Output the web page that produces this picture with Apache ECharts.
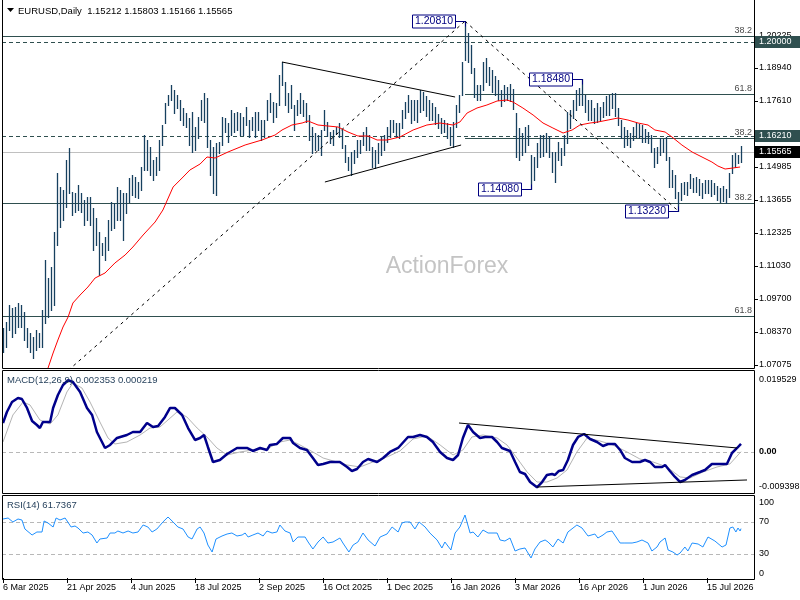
<!DOCTYPE html>
<html>
<head>
<meta charset="utf-8">
<script src="https://cdn.jsdelivr.net/npm/echarts@6/dist/echarts.min.js"></script>
<style>html,body{margin:0;padding:0;background:#fff;}#c{width:800px;height:600px;}</style>
</head>
<body>
<div id="c"></div>
<script>
// ---------------- DATA ----------------
const symbolName = 'EURUSD';
const periodName = 'Daily';
const lastOHLC = [1.15212, 1.15803, 1.15166, 1.15565];
const dateLabels = ['6 Mar 2025','21 Apr 2025','4 Jun 2025','18 Jul 2025','2 Sep 2025','16 Oct 2025','1 Dec 2025','16 Jan 2026','3 Mar 2026','16 Apr 2026','1 Jun 2026','15 Jul 2026'];

const highs = [
1.0854,1.0878,1.0946,1.0934,1.0938,1.0954,1.0946,1.0918,1.0854,1.0834,
1.0818,1.0846,1.0834,1.0926,1.1126,1.1054,1.1098,1.1238,1.1474,1.1418,
1.1406,1.1526,1.1574,1.1398,1.1394,1.1426,1.1394,1.1366,1.1378,1.1378,
1.1334,1.1294,1.1238,1.1194,1.1218,1.1286,1.1358,1.1354,1.1418,1.1406,
1.1394,1.1394,1.1454,1.1466,1.1458,1.1438,1.1498,1.1626,1.1606,1.1578,
1.1526,1.1538,1.1606,1.1666,1.1754,1.1786,1.1826,1.1806,1.1786,1.1766,
1.1734,1.1714,1.1694,1.1718,1.1658,1.1698,1.1766,1.1794,1.1774,1.1606,
1.1578,1.1594,1.1598,1.1698,1.1694,1.1674,1.1726,1.1714,1.1718,1.1714,
1.1698,1.1738,1.1686,1.1698,1.1718,1.1718,1.1686,1.1686,1.1766,1.1794,
1.1758,1.1754,1.1866,1.1918,1.1838,1.1794,1.1826,1.1746,1.1766,1.1794,
1.1766,1.1754,1.1706,1.1658,1.1634,1.1626,1.1646,1.1726,1.1678,1.1638,
1.1646,1.1658,1.1674,1.1646,1.1586,1.1538,1.1558,1.1566,1.1606,1.1606,
1.1638,1.1658,1.1626,1.1578,1.1566,1.1594,1.1618,1.1626,1.1658,1.1686,
1.1686,1.1674,1.1674,1.1726,1.1758,1.1786,1.1766,1.1766,1.1766,1.1806,
1.1798,1.1782,1.1766,1.1754,1.1738,1.1710,1.1694,1.1686,1.1674,1.1658,
1.1678,1.1746,1.1786,1.1918,1.2081,1.2034,1.1986,1.1894,1.1826,1.1826,
1.1918,1.1934,1.1898,1.1886,1.1862,1.1846,1.1806,1.1826,1.1818,1.1830,
1.1810,1.1714,1.1654,1.1634,1.1658,1.1666,1.1546,1.1538,1.1594,1.1626,
1.1626,1.1634,1.1622,1.1558,1.1558,1.1598,1.1574,1.1626,1.1718,1.1726,
1.1766,1.1806,1.1814,1.1848,1.1786,1.1766,1.1766,1.1734,1.1754,1.1738,
1.1758,1.1782,1.1786,1.1794,1.1794,1.1734,1.1686,1.1658,1.1646,1.1634,
1.1658,1.1674,1.1670,1.1666,1.1650,1.1638,1.1626,1.1574,1.1578,1.1614,
1.1610,1.1618,1.1538,1.1486,1.1466,1.1398,1.1434,1.1438,1.1438,1.1470,
1.1454,1.1458,1.1450,1.1434,1.1446,1.1446,1.1446,1.1434,1.1422,1.1414,
1.1422,1.1410,1.1474,1.1546,1.1554,1.1546,1.15803];

const lows = [
1.0758,1.0778,1.0846,1.0818,1.0834,1.0858,1.0858,1.0806,1.0778,1.0758,
1.0734,1.0766,1.0778,1.0778,1.0874,1.0898,1.0926,1.0946,1.1186,1.1258,
1.1286,1.1338,1.1394,1.1306,1.1318,1.1326,1.1318,1.1266,1.1286,1.1266,
1.1166,1.1186,1.1066,1.1146,1.1126,1.1166,1.1246,1.1254,1.1286,1.1286,
1.1206,1.1314,1.1358,1.1386,1.1378,1.1374,1.1406,1.1486,1.1486,1.1466,
1.1446,1.1466,1.1486,1.1586,1.1674,1.1746,1.1766,1.1714,1.1734,1.1686,
1.1666,1.1658,1.1586,1.1558,1.1566,1.1614,1.1686,1.1678,1.1578,1.1466,
1.1394,1.1386,1.1554,1.1586,1.1638,1.1598,1.1626,1.1638,1.1646,1.1626,
1.1626,1.1666,1.1618,1.1646,1.1618,1.1646,1.1606,1.1618,1.1686,1.1718,
1.1678,1.1698,1.1746,1.1826,1.1746,1.1718,1.1734,1.1646,1.1706,1.1714,
1.1702,1.1678,1.1606,1.1554,1.1566,1.1566,1.1546,1.1646,1.1622,1.1594,
1.1586,1.1630,1.1618,1.1574,1.1518,1.1486,1.1466,1.1514,1.1538,1.1554,
1.1586,1.1566,1.1566,1.1498,1.1494,1.1514,1.1546,1.1566,1.1598,1.1618,
1.1638,1.1618,1.1614,1.1654,1.1694,1.1718,1.1674,1.1686,1.1678,1.1718,
1.1726,1.1702,1.1686,1.1686,1.1670,1.1654,1.1634,1.1638,1.1614,1.1586,
1.1578,1.1658,1.1718,1.1786,1.1926,1.1918,1.1874,1.1778,1.1766,1.1766,
1.1806,1.1838,1.1826,1.1798,1.1786,1.1766,1.1742,1.1762,1.1766,1.1762,
1.1730,1.1538,1.1526,1.1546,1.1558,1.1586,1.1408,1.1446,1.1498,1.1538,
1.1542,1.1558,1.1538,1.1478,1.1438,1.1526,1.1506,1.1546,1.1594,1.1654,
1.1694,1.1726,1.1746,1.1746,1.1718,1.1686,1.1686,1.1674,1.1678,1.1686,
1.1698,1.1706,1.1706,1.1734,1.1702,1.1666,1.1614,1.1578,1.1586,1.1578,
1.1606,1.1618,1.1614,1.1598,1.1598,1.1594,1.1558,1.1498,1.1514,1.1546,
1.1558,1.1526,1.1418,1.1418,1.1374,1.1323,1.1366,1.1390,1.1386,1.1414,
1.1398,1.1398,1.1386,1.1374,1.1394,1.1394,1.1382,1.1390,1.1366,1.1358,
1.1362,1.1354,1.1378,1.1474,1.1498,1.1514,1.15166];

// moving average (bar index, price)
const maLine = [[14,1.0658],[16.7,1.0754],[18.3,1.0806],[20,1.0858],[21.7,1.0898],[23.3,1.0954],[25.7,1.0986],[28.3,1.1018],[30.7,1.1054],[34,1.1074],[37.3,1.1114],[40.7,1.1146],[43.3,1.1178],[46.7,1.1226],[50.7,1.1278],[53.3,1.1326],[56.7,1.1418],[59.7,1.1454],[62.3,1.1486],[65.7,1.1510],[68,1.1538],[70.7,1.1534],[75,1.1558],[80.7,1.1586],[86.3,1.1606],[90.7,1.1626],[93,1.1646],[96.3,1.1666],[99.7,1.1674],[101.7,1.1682],[105,1.1666],[108.3,1.1662],[111.7,1.1658],[115,1.1638],[118.3,1.1622],[121.7,1.1622],[124.7,1.1606],[128,1.1606],[132.3,1.1618],[136.7,1.1646],[141.3,1.1666],[145.7,1.1674],[150,1.1666],[152.3,1.1678],[154.7,1.1714],[158,1.1734],[161.3,1.1746],[164.7,1.1762],[168,1.1766],[170,1.1758],[173.3,1.1734],[176.7,1.1706],[180,1.1674],[183.3,1.1654],[186.7,1.1634],[189.7,1.1646],[192.3,1.1666],[195.7,1.1674],[198.3,1.1678],[201.7,1.1686],[205,1.1694],[208.3,1.1686],[211.7,1.1674],[215,1.1666],[217.3,1.1646],[220.7,1.1638],[223,1.1618],[226.3,1.1586],[229.7,1.1558],[233,1.1538],[236.3,1.1518],[238.3,1.1502],[240.7,1.1490],[243.3,1.1494],[245.7,1.1498]];

const macdLine = [[0,0.00798],[1.3,0.01095],[3,0.01365],[5,0.01473],[6.3,0.01446],[8,0.01203],[9.7,0.00852],[11.3,0.00743],[12.3,0.00662],[13.3,0.00825],[15.7,0.00825],[16.7,0.01203],[18.3,0.01554],[20,0.01825],[21.7,0.01953],[23.3,0.01906],[25.7,0.01636],[28,0.01203],[29.7,0.01014],[31.3,0.00554],[33,0.00284],[34,0.00122],[35.7,0.00203],[38,0.00392],[41.3,0.00473],[43.3,0.00554],[45.7,0.00554],[48,0.00798],[50,0.00689],[51.7,0.00716],[54,0.00960],[55.7,0.01203],[57.3,0.01203],[59.7,0.01014],[61.7,0.00662],[64,0.00338],[65.7,0.00392],[67,0.00473],[68.3,0.00149],[70,-0.00257],[72.3,-0.00203],[74.7,-0.00041],[78,0.00122],[81.3,0.00122],[83.3,0.00041],[85.7,0.00122],[88,0.00068],[89,0.00203],[91.3,0.00230],[93.3,0.00392],[95.7,0.00392],[96.7,0.00257],[99,0.00122],[101.3,0.00068],[103.3,-0.00149],[105,-0.00338],[106.7,-0.00311],[109,-0.00257],[112.3,-0.00257],[114.7,-0.00392],[116.3,-0.00500],[118,-0.00446],[120,-0.00257],[121.7,-0.00176],[124.7,-0.00257],[126.7,-0.00149],[129,0.00014],[131.7,0.00122],[132.3,0.00149],[135,0.00419],[136.7,0.00419],[139,0.00473],[141.3,0.00419],[143.3,0.00284],[145.7,0.00014],[148,-0.00149],[150,-0.00203],[151.7,-0.00068],[153.3,0.00392],[155,0.00743],[156.7,0.00554],[159,0.00392],[160.7,0.00419],[163,0.00419],[164.7,0.00284],[166.3,0.00122],[169,0.00041],[170.7,-0.00257],[172.3,-0.00527],[174,-0.00581],[175.7,-0.00798],[178,-0.00940],[179.7,-0.00798],[181.3,-0.00608],[183,-0.00581],[184,-0.00608],[185.3,-0.00500],[186.7,-0.00473],[188.3,-0.00203],[190,0.00203],[191.7,0.00419],[193.7,0.00500],[195.7,0.00365],[198,0.00284],[200,0.00176],[201.7,0.00230],[204,0.00230],[205.7,0.00068],[207.3,-0.00149],[209.7,-0.00257],[212.3,-0.00257],[214,-0.00203],[215.7,-0.00257],[217.3,-0.00392],[219.7,-0.00392],[220.7,-0.00338],[222.3,-0.00500],[224,-0.00662],[225.7,-0.00798],[227.3,-0.00743],[229.7,-0.00608],[232.3,-0.00527],[234,-0.00473],[236.3,-0.00311],[239,-0.00311],[241.3,-0.00311],[243,-0.00014],[244.7,0.00122],[246,0.002353]];

const signalLine = [[0,0.00284],[3.3,0.01014],[6.7,0.01365],[9,0.01284],[12.3,0.00879],[15.7,0.00770],[18.3,0.01014],[21.3,0.01636],[23.3,0.01879],[26.3,0.01744],[29,0.01365],[32.3,0.00825],[35,0.00392],[37.3,0.00230],[41.3,0.00284],[45.7,0.00473],[49,0.00662],[52.3,0.00689],[55,0.00879],[58,0.01095],[61.3,0.00960],[64.7,0.00662],[68,0.00419],[71.3,0.00122],[74.7,-0.00068],[79,0.00014],[83.3,0.00068],[88,0.00095],[92.3,0.00284],[95.7,0.00338],[99,0.00203],[103.3,0.00014],[106.7,-0.00149],[111.3,-0.00257],[114.7,-0.00338],[119,-0.00392],[123.3,-0.00257],[128,-0.00122],[132.3,0.00041],[136.7,0.00365],[141.3,0.00446],[145.7,0.00203],[150,-0.00068],[153.3,0.00068],[156.3,0.00419],[160,0.00473],[164.7,0.00392],[168,0.00203],[171.3,-0.00149],[174.7,-0.00527],[178,-0.00798],[181.3,-0.00798],[184.7,-0.00689],[188,-0.00473],[191.3,0.00014],[194.7,0.00392],[199,0.00311],[203.3,0.00203],[208,0.00014],[212.3,-0.00176],[216.7,-0.00257],[221.3,-0.00392],[225.7,-0.00662],[229,-0.00689],[233.3,-0.00527],[238,-0.00392],[242.3,-0.00311],[246,0.000219]];

const rsiLine = [[0,73.75],[1.7,75],[3.3,70],[5,73.75],[6.3,72.5],[7.3,61.25],[9.7,53.75],[11.3,57.5],[13,57.5],[13.7,71.25],[15,68.75],[16.7,63.75],[17.7,75],[19,72.5],[20.7,75],[21.3,76.25],[22.7,63.75],[24,65],[25,62.5],[26.7,56.25],[28.3,57.5],[29.7,53.75],[31.3,43.75],[32.3,48.75],[34.7,50],[35.7,56.25],[37.3,56.25],[38.3,58.75],[40,56.25],[41.7,58.75],[43.3,56.25],[45,57.5],[46.7,66.25],[48.3,63.75],[49.7,57.5],[51.3,61.25],[53.3,70],[55,76.25],[56.7,70],[58.3,63.75],[60,61.25],[61.7,51.25],[63,48.75],[64.7,61.25],[65.7,63.75],[67,56.25],[68.3,41.25],[69.7,32.5],[71,48.75],[73,52.5],[74.7,55],[76.3,56.25],[78,52.5],[79.7,53.75],[80.7,56.25],[81.7,51.25],[83.3,53.75],[85,56.25],[86.7,52.5],[88,58.75],[89.7,56.25],[91.3,57.5],[92.3,66.25],[94,58.75],[95.7,56.25],[96.7,45],[98.3,51.25],[100.7,51.25],[101.7,45],[103.3,36.25],[105,45],[106.7,51.25],[108.3,43.75],[110,45],[112.3,50],[113.3,43.75],[115.3,32.5],[116.7,41.25],[118.3,45],[120,56.25],[121.7,47.5],[124,40],[125.7,51.25],[128,55],[129.7,63.75],[131.7,57.5],[133,68.75],[134,70],[135.7,70],[137.3,61.25],[138.7,70],[140.7,63.75],[142.3,56.25],[144.7,47.5],[146.3,37.5],[147.3,45],[149.3,35],[150.7,56.25],[152.3,63.75],[154,78.75],[155.7,56.25],[156.7,57.5],[158.3,51.25],[160,60],[161.7,56.25],[164.7,56.25],[165.7,47.5],[167.3,46.25],[169,50],[170.7,33.75],[172.3,36.25],[174,37.5],[176,25],[177.3,36.25],[179,45],[180.7,47.5],[181.7,45],[183.3,38.75],[185,48.75],[186.7,43.75],[188.3,57.5],[191.3,66.25],[193,62.5],[195,52.5],[197.3,55],[198.3,50],[200,53.75],[201.3,57.5],[203,58.75],[205.7,43.75],[207.3,43.75],[209.7,43.75],[211.3,45],[213,47.5],[215,43.75],[216.3,33.75],[218,38.75],[219,45],[220.7,50],[221.7,35],[223.3,32.5],[224.7,28.75],[225.7,31.25],[227.3,38.75],[228.3,33.75],[229.7,43.75],[231.7,42.5],[233.3,38.75],[235,51.25],[237.3,46.25],[239.7,38.75],[241,41.25],[242.3,62.5],[243.3,63.75],[244.3,57.5],[245,62.5],[245.7,58.75],[246,61.7367]];

// levels
const fibLevels = [[0,1.20225,'38.2'],[154,1.17914,'61.8'],[154,1.16126,'38.2'],[0,1.1353,'38.2'],[0,1.0902,'61.8']];
const roundLevels = [1.20000, 1.16210];
const lastPrice = 1.15565;
const priceTicks = [1.20225,1.18940,1.17610,1.14985,1.13655,1.12325,1.11030,1.09700,1.08370,1.07075];
const swingPoints = [[154,1.2081,'high'],[193,1.1848,'high'],[176,1.1408,'low'],[225,1.1323,'low']];
const triangleUpper = [[93,1.1918],[150.7,1.1778]];
const triangleLower = [[107.3,1.1438],[152.7,1.1586]];
const riseLine = [[20,1.0666],[154,1.2081]];
const fallLine = [[154,1.2081],[225,1.1323]];
const macdUpper = [[152,0.00797],[244.7,0.00122]];
const macdLower = [[178,-0.00933],[248,-0.00743]];
const macdTicks = [0.019529, 0, -0.009398];
const rsiTicks = [100, 70, 30, 0];
const rsiLevels = [70, 30];

// ---------------- LAYOUT / STYLE ----------------
const FONT = '"Liberation Sans", Arial, sans-serif';
const X_MAX = 751 / 3;
const LABEL_STEP = 64 / 3;
const BAR_COLOR = '#17405f';
const LEVEL_COLOR = '#2f4f4f';

const chart = echarts.init(document.getElementById('c'));

function levelSeries(grid, data, color, dash, withLabel) {
  return {
    type: 'custom', xAxisIndex: grid, yAxisIndex: grid, silent: true, z: 1, clip: false,
    data: data,
    renderItem: function (params, api) {
      const cs = params.coordSys;
      const from = api.value(0), v = api.value(1);
      const p = api.coord([from, v]);
      const y = Math.round(p[1]) + 0.5;
      const x1 = from === 0 ? cs.x - 1 : Math.round(p[0]);
      const children = [{ type: 'line', shape: { x1: x1, y1: y, x2: cs.x + cs.width, y2: y },
        style: { stroke: color, lineWidth: 1, lineDash: dash } }];
      if (withLabel) {
        children.push({ type: 'text', style: { text: data[params.dataIndex][2], x: cs.x + cs.width - 2, y: y - 1,
          align: 'right', verticalAlign: 'bottom', fill: '#4a4a4a', font: '9px ' + FONT } });
      }
      return { type: 'group', children: children };
    }
  };
}

function tickLabelSeries(grid, ticks, fmt, opts) {
  return {
    type: 'custom', xAxisIndex: grid, yAxisIndex: grid, silent: true, z: 6, clip: false,
    data: ticks.map(function (v) { return [0, v]; }),
    renderItem: function (params, api) {
      const cs = params.coordSys;
      const v = api.value(1);
      const y = Math.round(api.coord([0, v])[1]);
      const xr = cs.x + cs.width;
      const children = [];
      let va = 'middle';
      if (opts.edgeAlign) {
        if (params.dataIndex === 0) va = 'top';
        if (params.dataIndex === ticks.length - 1) va = 'bottom';
      }
      if (opts.ticks) children.push({ type: 'line', shape: { x1: xr, y1: y + 0.5, x2: xr + 4, y2: y + 0.5 }, style: { stroke: '#000', lineWidth: 1 } });
      children.push({ type: 'text', style: { text: fmt(v), x: xr + 5, y: y, align: 'left', verticalAlign: va,
        fill: '#000', font: (opts.boldZero && v === 0 ? 'bold ' : '') + '9px ' + FONT } });
      return { type: 'group', children: children };
    }
  };
}

function boxLabelSeries(values, fill) {
  return {
    type: 'custom', xAxisIndex: 0, yAxisIndex: 0, silent: true, z: 7, clip: false,
    data: values.map(function (v) { return [0, v]; }),
    renderItem: function (params, api) {
      const cs = params.coordSys;
      const v = api.value(1);
      const y = Math.round(api.coord([0, v])[1]);
      const xr = cs.x + cs.width;
      return { type: 'group', children: [
        { type: 'rect', shape: { x: xr + 1, y: y - 6, width: 46, height: 12 }, style: { fill: fill } },
        { type: 'text', style: { text: v.toFixed(5), x: xr + 5, y: y, align: 'left', verticalAlign: 'middle', fill: '#fff', font: '9px ' + FONT } }
      ] };
    }
  };
}

function lineSeries(grid, data, color, width, dash, z) {
  return { type: 'line', xAxisIndex: grid, yAxisIndex: grid, data: data, symbol: 'none', silent: true, z: z || 3,
    lineStyle: { color: color, width: width, type: dash || 'solid' }, animation: false };
}

const series = [];
// price panel levels
series.push(levelSeries(0, fibLevels, LEVEL_COLOR, null, true));
series.push(levelSeries(0, roundLevels.map(function (v) { return [0, v]; }), LEVEL_COLOR, [4, 3], false));
series.push(levelSeries(0, [[0, lastPrice]], '#c0c0c0', null, false));
// bars
series.push({
  type: 'custom', xAxisIndex: 0, yAxisIndex: 0, silent: true, z: 2,
  data: highs.map(function (h, i) { return [i, h, lows[i]]; }),
  renderItem: function (params, api) {
    const top = api.coord([api.value(0), api.value(1)]);
    const bot = api.coord([api.value(0), api.value(2)]);
    const x = Math.round(top[0]) + 0.5;
    return { type: 'line', shape: { x1: x, y1: Math.round(top[1]), x2: x, y2: Math.round(bot[1]) + 1 },
      style: { stroke: BAR_COLOR, lineWidth: 1.3 } };
  }
});
series.push(lineSeries(0, maLine, '#ff0000', 1, null, 3));
series.push(lineSeries(0, triangleUpper, '#000', 1, null, 4));
series.push(lineSeries(0, triangleLower, '#000', 1, null, 4));
series.push(lineSeries(0, riseLine, '#000', 1, [3, 4], 4));
series.push(lineSeries(0, fallLine, '#000', 1, [3, 4], 4));
// swing labels
series.push({
  type: 'custom', xAxisIndex: 0, yAxisIndex: 0, silent: true, z: 5, clip: false,
  data: swingPoints.map(function (s) { return [s[0], s[1]]; }),
  renderItem: function (params, api) {
    const kind = swingPoints[params.dataIndex][2];
    const v = api.value(1);
    const pt = api.coord([api.value(0), v]);
    const bx = Math.round(pt[0]) + 0.5, by = Math.round(pt[1]) + 0.5;
    const right = bx - 10, w = 43, h = 13;
    const vy = kind === 'high' ? by + 5 : by - 5;
    return { type: 'group', children: [
      { type: 'polyline', shape: { points: [[right, by], [bx, by], [bx, vy]] }, style: { stroke: '#000080', fill: null, lineWidth: 1 } },
      { type: 'rect', shape: { x: right - w, y: by - 6.5, width: w, height: h }, style: { fill: '#fff', stroke: '#000080', lineWidth: 1 } },
      { type: 'text', style: { text: v.toFixed(5), x: right - w / 2, y: by, align: 'center', verticalAlign: 'middle', fill: '#000080', font: '10.5px ' + FONT } }
    ] };
  }
});
series.push(tickLabelSeries(0, priceTicks, function (v) { return v.toFixed(5); }, { ticks: true }));
series.push(boxLabelSeries(roundLevels, '#2f4f4f'));
series.push(boxLabelSeries([lastPrice], '#000'));

// MACD panel
series.push(levelSeries(1, [[0, 0]], '#b8b8b8', [4, 3], false));
series.push(lineSeries(1, signalLine, '#b4b4b4', 1, null, 3));
series.push(lineSeries(1, macdLine, '#00008b', 2.5, null, 4));
series.push(lineSeries(1, macdUpper, '#000', 1, null, 5));
series.push(lineSeries(1, macdLower, '#000', 1, null, 5));
series.push(tickLabelSeries(1, macdTicks, function (v) { return v === 0 ? '0.00' : String(v); }, { boldZero: true }));

// RSI panel
series.push(levelSeries(2, rsiLevels.map(function (v) { return [0, v]; }), '#b8b8b8', [4, 3], false));
series.push(lineSeries(2, rsiLine, '#1e90ff', 1, null, 3));
series.push(tickLabelSeries(2, rsiTicks, function (v) { return String(v); }, { edgeAlign: true }));

const hiddenX = function (g) { return { type: 'value', gridIndex: g, min: 0, max: X_MAX, show: false }; };

const option = {
  animation: false,
  backgroundColor: '#fff',
  grid: [
    { left: 3, right: 46, top: 2, height: 366 },
    { left: 3, right: 46, top: 371, height: 121 },
    { left: 3, right: 46, top: 498, height: 80 }
  ],
  xAxis: [hiddenX(0), hiddenX(1), {
    type: 'value', gridIndex: 2, min: 0, max: X_MAX, interval: LABEL_STEP,
    axisLine: { show: false }, splitLine: { show: false },
    axisTick: { show: true, length: 5, lineStyle: { color: '#000' } },
    axisLabel: { show: true, margin: 5, align: 'left', fontSize: 9, fontFamily: FONT, color: '#000', showMaxLabel: false,
      formatter: function (v) { return dateLabels[Math.round(v / LABEL_STEP)] || ''; } }
  }],
  yAxis: [
    { type: 'value', gridIndex: 0, min: 1.0694, max: 1.2158, show: false },
    { type: 'value', gridIndex: 1, min: -0.01068, max: 0.02203, show: false },
    { type: 'value', gridIndex: 2, min: 0, max: 100, show: false }
  ],
  series: series,
  graphic: [
    { type: 'text', z: -10, silent: true, style: { text: 'ActionForex', x: 447, y: 267, align: 'center', verticalAlign: 'middle', fill: '#c4c4c4', font: '23px ' + FONT } },
    { type: 'polygon', z: 50, silent: true, shape: { points: [[7, 8], [14, 8], [10.5, 12]] }, style: { fill: '#000' } },
    { type: 'text', z: 50, silent: true, style: { text: symbolName + ',' + periodName + '  ' + lastOHLC.map(function (v) { return v.toFixed(5); }).join(' '), x: 18, y: 11, verticalAlign: 'middle', fill: '#000', font: '9.5px ' + FONT } },
    { type: 'text', z: 50, silent: true, style: { text: 'MACD(12,26,9) ' + macdLine[macdLine.length - 1][1].toFixed(6) + ' ' + signalLine[signalLine.length - 1][1].toFixed(6), x: 7, y: 380, verticalAlign: 'middle', fill: '#1f3b57', font: '9.5px ' + FONT } },
    { type: 'text', z: 50, silent: true, style: { text: 'RSI(14) ' + rsiLine[rsiLine.length - 1][1].toFixed(4), x: 7, y: 505, verticalAlign: 'middle', fill: '#1f3b57', font: '9.5px ' + FONT } },
    { type: 'rect', z: 60, silent: true, shape: { x: 2.5, y: -1, width: 752, height: 369.5 }, style: { fill: 'none', stroke: '#000', lineWidth: 1 } },
    { type: 'rect', z: 60, silent: true, shape: { x: 2.5, y: 370.5, width: 752, height: 123 }, style: { fill: 'none', stroke: '#000', lineWidth: 1 } },
    { type: 'rect', z: 60, silent: true, shape: { x: 2.5, y: 495.5, width: 752, height: 84 }, style: { fill: 'none', stroke: '#000', lineWidth: 1 } }
  ]
};
chart.setOption(option);
</script>
</body>
</html>
